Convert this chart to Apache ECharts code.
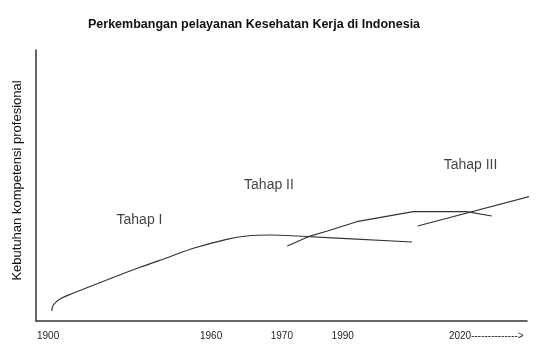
<!DOCTYPE html>
<html>
<head>
<meta charset="utf-8">
<script src="https://cdn.jsdelivr.net/npm/echarts@6/dist/echarts.min.js"></script>
<style>
html,body{margin:0;padding:0;background:#fff;}
#chart{width:551px;height:358px;}
</style>
</head>
<body>
<div id="chart"></div>
<script>
// Schematic units (0–100 on both axes)
var tickPositions = [0.2, 33.4, 47.8, 60.2, 84.1];
var tickLabels = ['1900', '1960', '1970', '1990', '2020-------------->'];

var tahap1 = [[3.20,3.69],[3.52,5.90],[4.89,8.12],[7.54,10.22],[14.40,15.13],[21.18,19.82],
  [27.29,23.73],[32.04,26.83],[38.84,30.15],[42.91,31.37],[47.66,31.73],[53.10,31.37],[76.58,29.15]];
var tahap2 = [[51.18,27.68],[55.46,31.11],[59.53,33.32],[65.32,36.64],[76.84,40.33],[87.72,40.33],[92.81,38.75]];
var tahap3 = [[77.74,35.06],[100.96,46.13]];

var stageNames = ['Tahap I', 'Tahap II', 'Tahap III'];
var stageLabelPos = [[21.08,37.27],[47.45,50.18],[88.49,57.56]];

var titleText = 'Perkembangan pelayanan Kesehatan Kerja di Indonesia';
var yAxisName = 'Kebutuhan kompetensi profesional';

var FONT = '"Liberation Sans", Arial, sans-serif';
var chart = echarts.init(document.getElementById('chart'), null, {renderer: 'canvas'});

var labelData = stageNames.map(function (n, i) {
  return {name: n, value: stageLabelPos[i]};
});

chart.setOption({
  animation: false,
  backgroundColor: '#fff',
  title: {
    text: titleText,
    left: 83,
    top: 13,
    textStyle: {fontFamily: FONT, fontSize: 12.5, fontWeight: 'bold', color: '#111'}
  },
  grid: {left: 36, right: 24, top: 50, bottom: 37, containLabel: false},
  xAxis: {
    type: 'value', min: 0, max: 100,
    splitLine: {show: false},
    axisTick: {show: false},
    axisLine: {show: true, lineStyle: {color: '#333', width: 1.5}},
    axisLabel: {
      show: true,
      customValues: tickPositions,
      align: 'left',
      margin: 10,
      fontFamily: FONT, fontSize: 10, color: '#222',
      formatter: function (v) {
        for (var i = 0; i < tickPositions.length; i++) {
          if (Math.abs(tickPositions[i] - v) < 1e-6) return tickLabels[i];
        }
        return '';
      }
    }
  },
  yAxis: {
    type: 'value', min: 0, max: 100,
    name: yAxisName,
    nameLocation: 'middle',
    nameRotate: 90,
    nameGap: 12,
    nameTextStyle: {fontFamily: FONT, fontSize: 13, color: '#111', padding: [0, 0, 0, 10]},
    splitLine: {show: false},
    axisTick: {show: false},
    axisLabel: {show: false},
    axisLine: {show: true, onZero: false, lineStyle: {color: '#333', width: 1.5}}
  },
  series: [
    {
      type: 'line', name: 'Tahap I', data: tahap1, smooth: 0.35,
      showSymbol: false, lineStyle: {color: '#333', width: 1.2}
    },
    {
      type: 'line', name: 'Tahap II', data: tahap2, smooth: false,
      showSymbol: false, lineStyle: {color: '#333', width: 1.2}
    },
    {
      type: 'line', name: 'Tahap III', data: tahap3, smooth: false, clip: false,
      showSymbol: false, lineStyle: {color: '#333', width: 1.2}
    },
    {
      type: 'scatter', data: labelData, symbolSize: 0, silent: true,
      label: {
        show: true, position: 'inside',
        formatter: function (p) { return p.name; },
        fontFamily: FONT, fontSize: 14, color: '#111'
      }
    }
  ]
});
</script>
</body>
</html>
